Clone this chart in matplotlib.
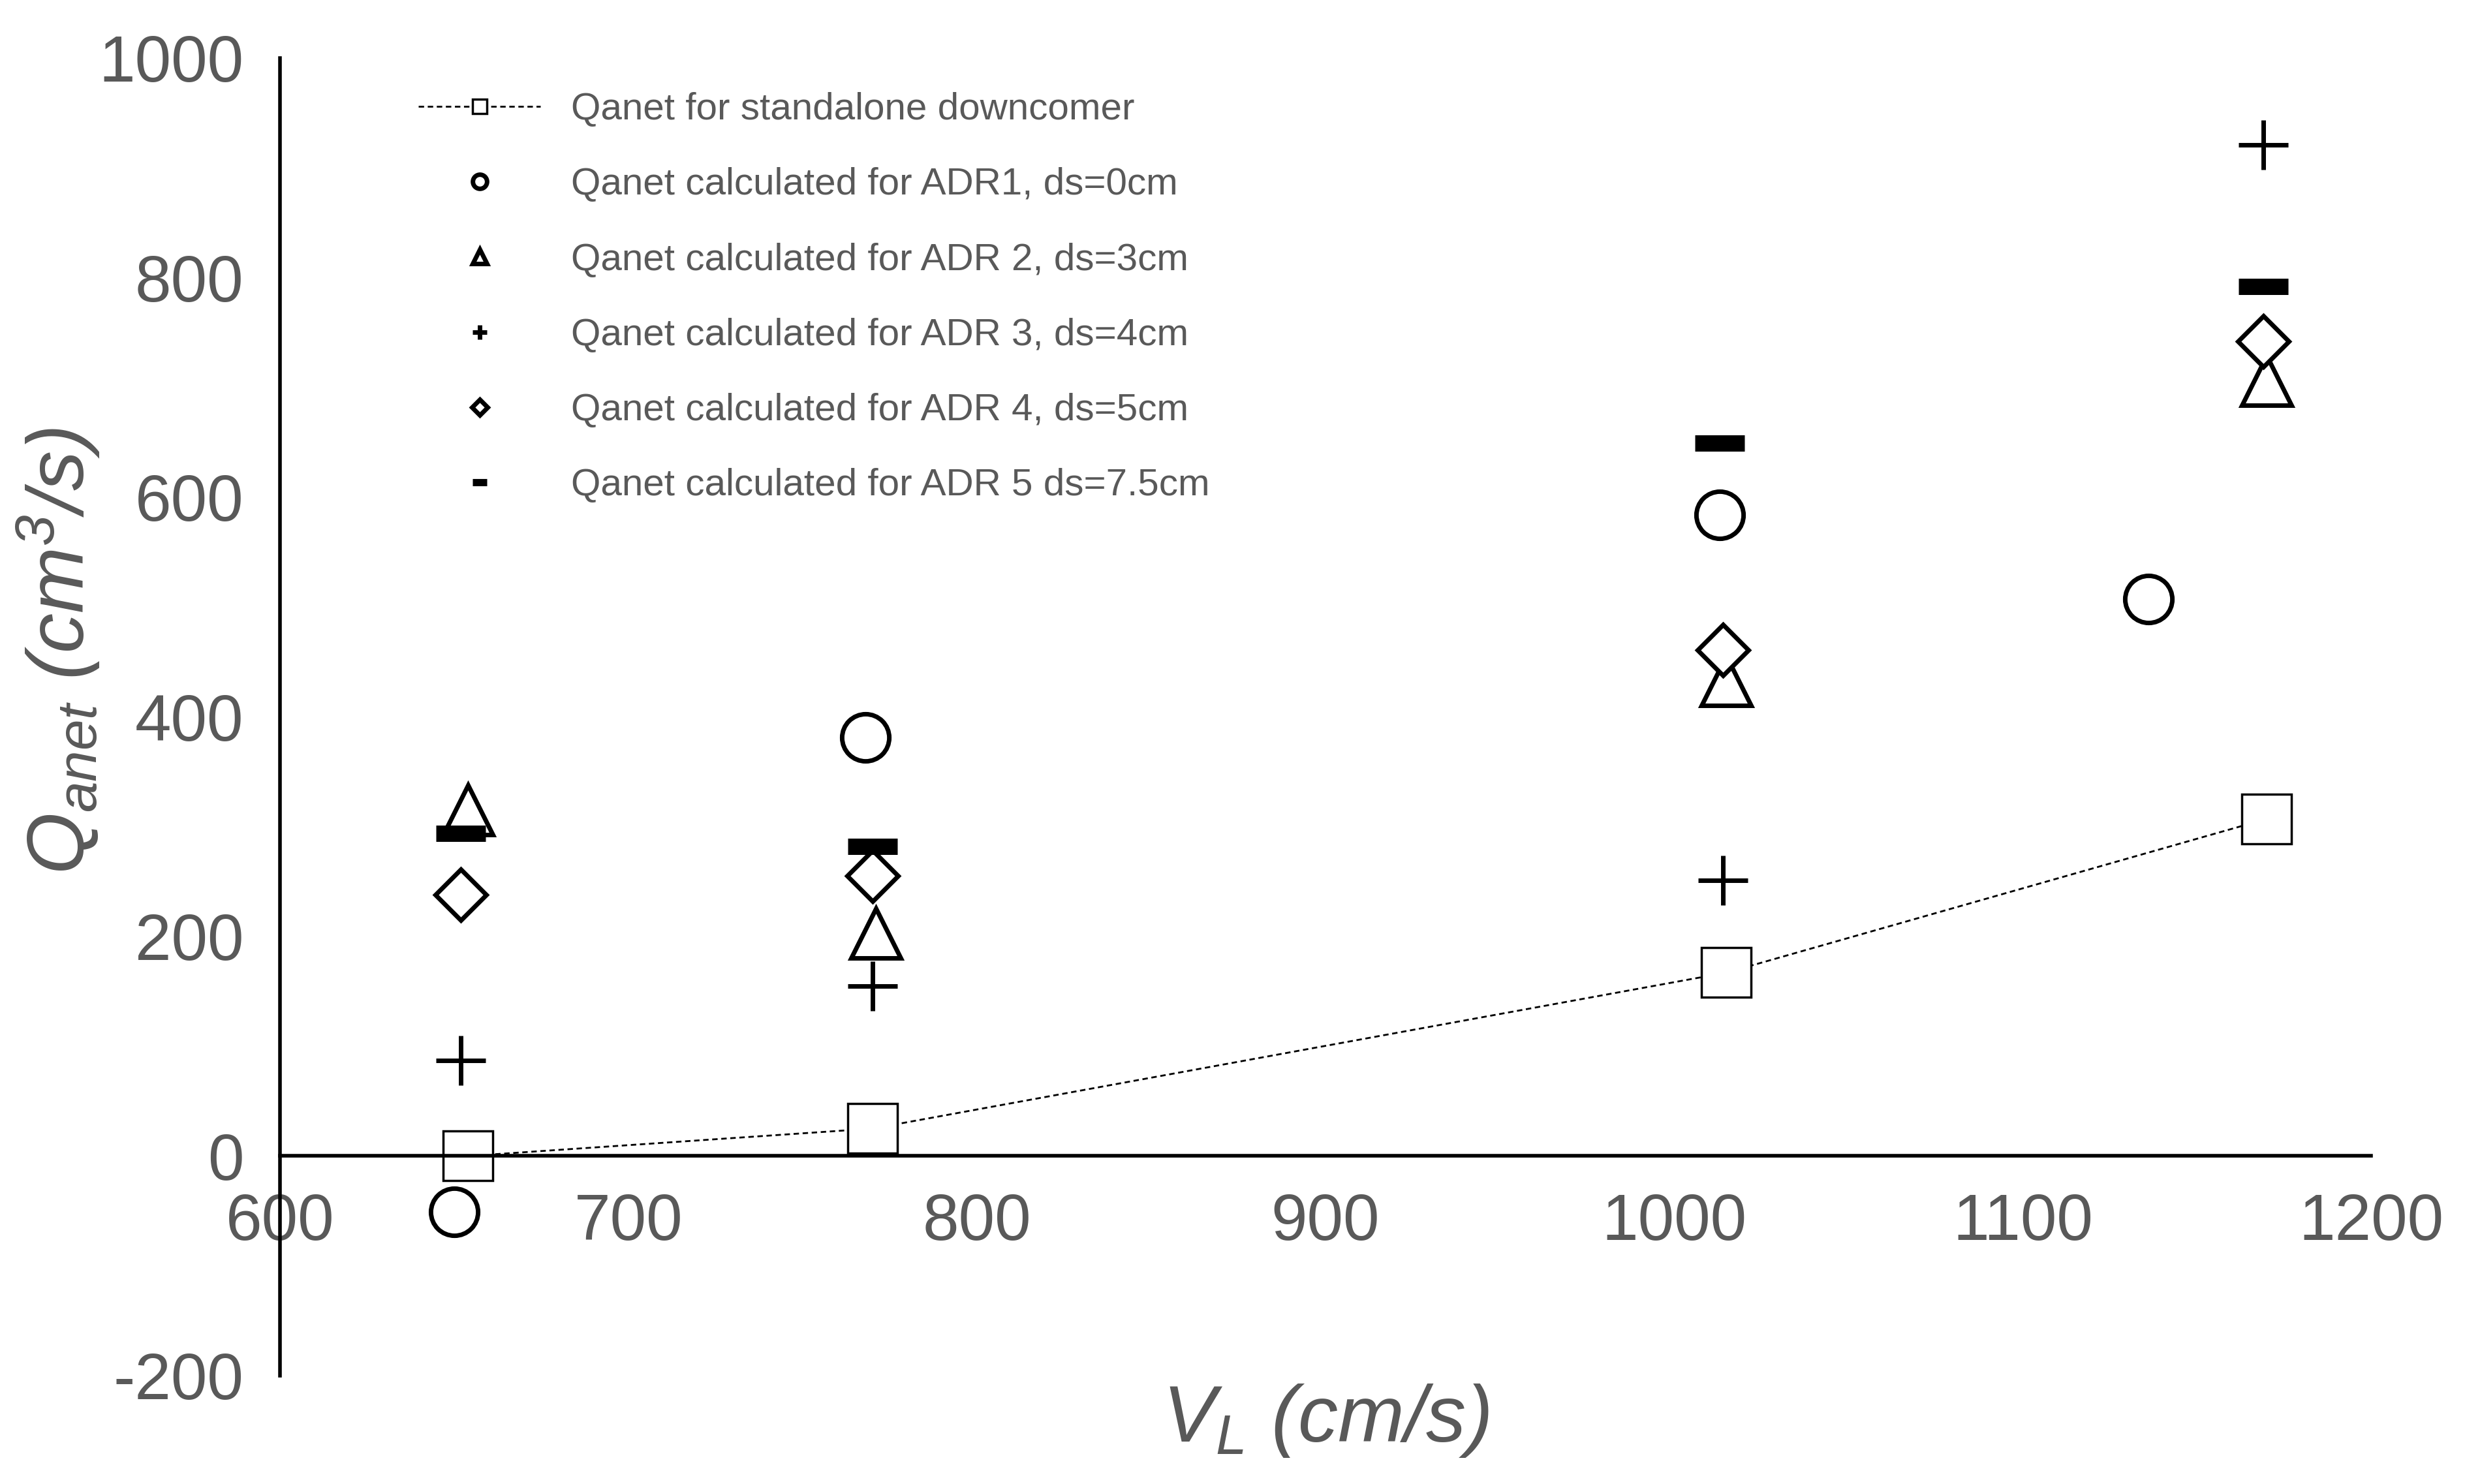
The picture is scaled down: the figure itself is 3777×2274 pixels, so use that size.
import numpy as np
from matplotlib import pyplot as plt

plt.rcParams["font.family"] = ["Liberation Sans", "DejaVu Sans"]
plt.rcParams["mathtext.fontset"] = "custom"
plt.rcParams["mathtext.rm"] = "Liberation Sans:italic"
plt.rcParams["mathtext.it"] = "Liberation Sans:italic"
plt.rcParams["axes.unicode_minus"] = False

# data
v_sd = [654, 770, 1015, 1170]
q_sd = [0, 25, 167, 307]

v_adr1 = [650, 768, 1013, 1136]
q_adr1 = [-51, 381, 584, 507]
v_adr2 = [654, 771, 1015, 1170]
q_adr2 = [315, 203, 433, 706]
v_adr3 = [652, 770, 1014, 1169]
q_adr3 = [87, 155, 251, 921]
v_adr4 = [652, 770, 1014, 1169]
q_adr4 = [238, 255, 461, 742]
v_adr5 = [652, 770, 1013, 1169]
q_adr5 = [294, 282, 649, 792]

grey = "#595959"
fig = plt.figure(figsize=(37.77, 22.74), dpi=100)
ax = fig.add_axes([0.1135, 0.073, 0.8485, 0.888])

ax.plot(v_sd, q_sd, "k--", lw=2, dashes=(3, 2), marker="s", ms=55, mfc="white",
        mec="black", mew=2.5, label="Qanet for standalone downcomer")
kw = dict(ls="none", mfc="white", mec="black", color="black")
ax.plot(v_adr1, q_adr1, marker="o", ms=52, mew=5, label="Qanet calculated for ADR1, ds=0cm", **kw)
ax.plot(v_adr2, q_adr2, marker="^", ms=55, mew=5, label="Qanet calculated for ADR 2, ds=3cm", **kw)
ax.plot(v_adr3, q_adr3, marker="+", ms=55, mew=5, label="Qanet calculated for ADR 3, ds=4cm", **kw)
ax.plot(v_adr4, q_adr4, marker="D", ms=40, mew=5, label="Qanet calculated for ADR 4, ds=5cm", **kw)
ax.plot(v_adr5, q_adr5, marker="_", ms=55, mew=18, label="Qanet calculated for ADR 5 ds=7.5cm", **kw)

ax.set_xlim(600, 1200)
ax.set_ylim(-200, 1000)
ax.set_xticks(np.arange(600, 1201, 100))
ax.set_yticks(np.arange(-200, 1001, 200))
ax.spines["bottom"].set_position(("data", 0))
ax.spines["top"].set_visible(False)
ax.spines["right"].set_visible(False)
for s in ("left", "bottom"):
    ax.spines[s].set_linewidth(4)
ax.tick_params(length=0, labelsize=72, labelcolor=grey, pad=40)
ax.set_xlabel("$V_L$ (cm/s)", fontsize=88, color=grey, style="italic")
ax.xaxis.set_label_coords(0.5, -0.005)
ax.set_ylabel("$Q_{anet}$ (cm$^3$/s)", fontsize=88, color=grey, style="italic")
ax.yaxis.set_label_coords(-0.085, 0.55)

leg = ax.legend(loc="upper left", bbox_to_anchor=(0.05, 1.0), frameon=False,
                fontsize=42, markerscale=0.3, labelspacing=1.05, handlelength=3.2)
for t in leg.get_texts():
    t.set_color(grey)
leg.legend_handles[5].set_markeredgewidth(8)

fig.savefig("out.png", dpi=100)
